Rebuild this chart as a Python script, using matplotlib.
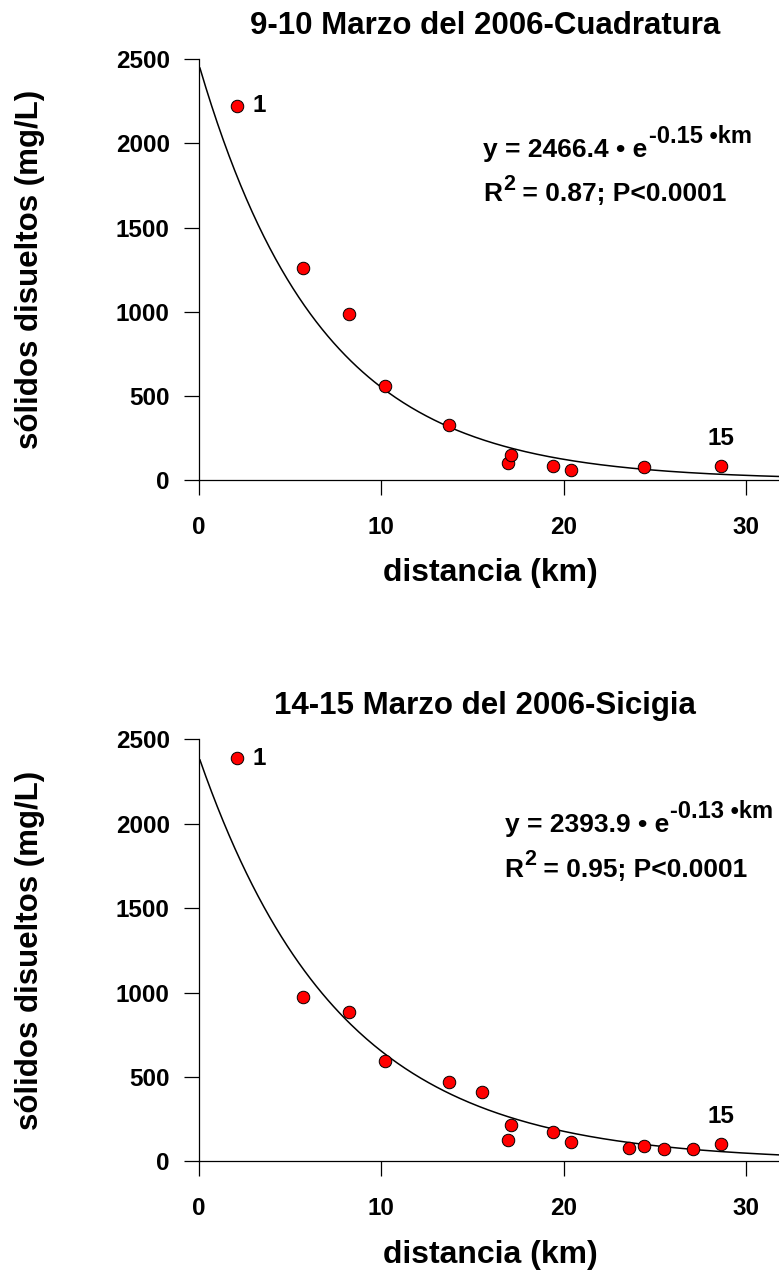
import numpy as np
import matplotlib
matplotlib.use("Agg")
import matplotlib.pyplot as plt

plt.rcParams['font.family'] = ['Liberation Sans', 'DejaVu Sans']
plt.rcParams['font.weight'] = 'bold'

# 9-10 marzo (cuadratura)
km_cuad = [2.1, 5.7, 8.2, 10.2, 13.7, 16.95, 17.1, 19.4, 20.4, 24.4, 28.6]
sd_cuad = [2224, 1260, 986, 557, 326, 103, 146, 83, 57, 77, 83]
a_cuad, b_cuad = 2466.4, 0.15

# 14-15 marzo (sicigia)
km_sic = [2.1, 5.7, 8.2, 10.2, 13.7, 15.5, 16.95, 17.1, 19.4, 20.4,
          23.6, 24.4, 25.5, 27.1, 28.6]
sd_sic = [2387, 975, 885, 595, 472, 409, 125, 217, 174, 117,
          77, 89, 75, 71, 101]
a_sic, b_sic = 2393.9, 0.13

xticks = [0, 10, 20, 30]
yticks = [0, 500, 1000, 1500, 2000, 2500]
XMAX = 31.8


def panel(ax, km, sd, a, b, title, eq1, eq1_sup, r2_rest, eq_xy):
    xx = np.linspace(0.05, XMAX, 300)
    ax.plot(xx, a * np.exp(-b * xx), color='black', lw=1.1, zorder=2)
    ax.plot(km, sd, 'o', ms=9, mfc='red', mec='black', mew=0.7, zorder=3,
            clip_on=False)

    ax.set_xlim(0, XMAX)
    ax.set_ylim(0, 2500)
    ax.set_xticks(xticks)
    ax.set_yticks(yticks)
    for s in ['top', 'right']:
        ax.spines[s].set_visible(False)
    for s in ['left', 'bottom']:
        ax.spines[s].set_linewidth(0.9)
    ax.tick_params(axis='both', direction='out', length=11, width=0.9,
                   labelsize=17.5)
    ax.tick_params(axis='y', pad=10)
    ax.tick_params(axis='x', pad=15)
    for lab in ax.get_xticklabels() + ax.get_yticklabels():
        lab.set_fontweight('bold')

    ax.set_xlabel('distancia (km)', fontsize=23, fontweight='bold', va='center')
    ax.xaxis.set_label_coords(0.503, -0.221)
    ax.set_ylabel('sólidos disueltos (mg/L)', fontsize=22.5, fontweight='bold',
                  va='center')
    ax.yaxis.set_label_coords(-0.291, 0.5)

    ax.text(0.493, 1.06, title, transform=ax.transAxes, ha='center',
            va='baseline', fontsize=22.5, fontweight='bold')

    # station labels
    ax.annotate('1', xy=(km[0], sd[0]), xytext=(11, 0), textcoords='offset points',
                fontsize=17.5, fontweight='bold', va='center', ha='left')
    ax.annotate('15', xy=(km[-1], sd[-1]), xytext=(0, 20), textcoords='offset points',
                fontsize=17.5, fontweight='bold', va='center', ha='center')

    # equation
    ex, ey = eq_xy
    t1 = ax.text(ex, ey, eq1, transform=ax.transAxes, fontsize=19,
                 fontweight='bold', va='baseline', ha='left')
    ax.annotate(eq1_sup, xy=(1, 0), xycoords=t1, xytext=(1, 10),
                textcoords='offset points', fontsize=17, fontweight='bold',
                va='bottom', ha='left', annotation_clip=False)
    t2 = ax.text(ex, ey - 0.105, 'R', transform=ax.transAxes, fontsize=19,
                 fontweight='bold', va='baseline', ha='left')
    s2 = ax.annotate('2', xy=(1, 0), xycoords=t2, xytext=(0.5, 8),
                     textcoords='offset points', fontsize=15.5, fontweight='bold',
                     va='bottom', ha='left')
    ax.annotate(r2_rest, xy=(1, 0), xycoords=(s2, t2), xytext=(0, 0),
                textcoords='offset points', fontsize=19, fontweight='bold',
                va='bottom', ha='left')


fig = plt.figure(figsize=(7.79, 12.81), dpi=100)
ax1 = fig.add_axes([0.2555, 0.6253, 0.7445, 0.3284])
ax2 = fig.add_axes([0.2555, 0.0934, 0.7445, 0.3294])

panel(ax1, km_cuad, sd_cuad, a_cuad, b_cuad, '9-10 Marzo del 2006-Cuadratura',
      'y = 2466.4 • e', '-0.15 •km', ' = 0.87; P<0.0001', (0.49, 0.768))
panel(ax2, km_sic, sd_sic, a_sic, b_sic, '14-15 Marzo del 2006-Sicigia',
      'y = 2393.9 • e', '-0.13 •km', ' = 0.95; P<0.0001', (0.527, 0.78))

fig.savefig('out.png', dpi=100)
